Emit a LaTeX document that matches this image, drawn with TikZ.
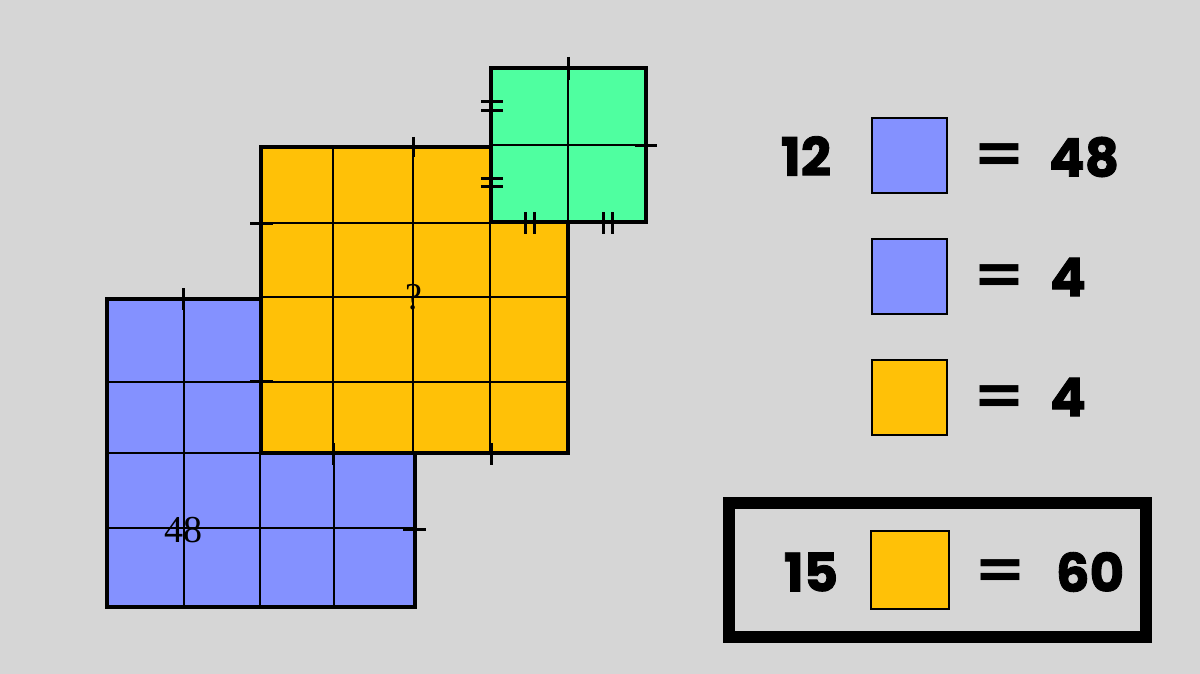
\documentclass[tikz,border=0pt]{standalone}
\usepackage{fontspec}
\newfontfamily\heavy[BoldFeatures={FakeBold=1.6}]{Poppins}
\newfontfamily\eqfont{DejaVu Sans}
\newfontfamily\timesfont{Liberation Serif}
\definecolor{bg}{RGB}{214,214,214}
\definecolor{bluesq}{RGB}{132,145,255}
\definecolor{orangesq}{RGB}{255,193,7}
\definecolor{greensq}{RGB}{79,255,160}
\tikzset{
  gridline/.style={line width=1.25pt},
  outer/.style={line width=2pt},
  tickmark/.style={line width=1.5pt},
  legsq/.style={draw, line width=1pt, minimum size=37.5pt, inner sep=0pt},
  bigtxt/.style={font=\heavy\bfseries\fontsize{26.5}{30}\selectfont, inner sep=0pt},
  eqtxt/.style={font=\eqfont\bfseries\fontsize{31}{34}\selectfont, inner sep=0pt},
  serif/.style={font=\timesfont\fontsize{19}{22}\selectfont, inner sep=0pt}
}
\begin{document}
\begin{tikzpicture}[x=0.5pt,y=-0.5pt]
\useasboundingbox (0,0) rectangle (1200,674);
\fill[bg] (0,0) rectangle (1200,674);
% blue square
\fill[bluesq] (107,299) rectangle (415,607);
\foreach \x in {184,260,334} \draw[gridline] (\x,299) -- (\x,607);
\foreach \y in {382,453,528} \draw[gridline] (107,\y) -- (415,\y);
\draw[outer] (107,299) rectangle (415,607);
% orange square
\fill[orangesq] (261,147) rectangle (568,453);
\foreach \x in {333,413,490} \draw[gridline] (\x,147) -- (\x,453);
\foreach \y in {223,297,382} \draw[gridline] (261,\y) -- (568,\y);
\draw[outer] (261,147) rectangle (568,453);
% green square
\fill[greensq] (491,68) rectangle (646,222);
\draw[gridline] (568,68) -- (568,222);
\draw[gridline] (491,145) -- (646,145);
\draw[outer] (491,68) rectangle (646,222);
% single ticks
\draw[tickmark] (568,57) -- (568,80);
\draw[tickmark] (635,146) -- (657,146);
\draw[tickmark] (250,223) -- (273,223);
\draw[tickmark] (413,137) -- (413,157);
\draw[tickmark] (183,288) -- (183,310);
\draw[tickmark] (250,381) -- (273,381);
\draw[tickmark] (333,443) -- (333,465);
\draw[tickmark] (491,443) -- (491,465);
\draw[tickmark] (403,529) -- (426,529);
% double ticks
\draw[tickmark] (481,102) -- (503,102) (481,111) -- (503,111);
\draw[tickmark] (481,179) -- (503,179) (481,187) -- (503,187);
\draw[tickmark] (525,212) -- (525,234) (534,212) -- (534,234);
\draw[tickmark] (603,212) -- (603,234) (612,212) -- (612,234);
% labels in the figure
\node[serif] (q) at (414,297) {?};
\node[serif] (n48) at (183,530) {48};
% legend
\node[bigtxt] (t12) at (806,156) {12};
\node[legsq, fill=bluesq] (s1) at (909.5,155.5) {};
\node[eqtxt] (e1) at (999,159) {=};
\node[bigtxt] (r1) at (1084,157) {48};
\node[legsq, fill=bluesq] (s2) at (909.5,276) {};
\node[eqtxt] (e2) at (999,280) {=};
\node[bigtxt] (r2) at (1068,277) {4};
\node[legsq, fill=orangesq] (s3) at (909.5,397) {};
\node[eqtxt] (e3) at (999,401) {=};
\node[bigtxt] (r3) at (1068,397) {4};
% boxed result
\node[draw, line width=6pt, minimum width=208.25pt, minimum height=67pt, inner sep=0pt] (box) at (937.25,569.5) {};
\node[bigtxt] (t15) at (811,572) {15};
\node[legsq, fill=orangesq, minimum size=39pt] (s4) at (910,569.5) {};
\node[eqtxt] (e4) at (1000,575) {=};
\node[bigtxt] (r4) at (1090,572) {60};
\end{tikzpicture}
\end{document}
